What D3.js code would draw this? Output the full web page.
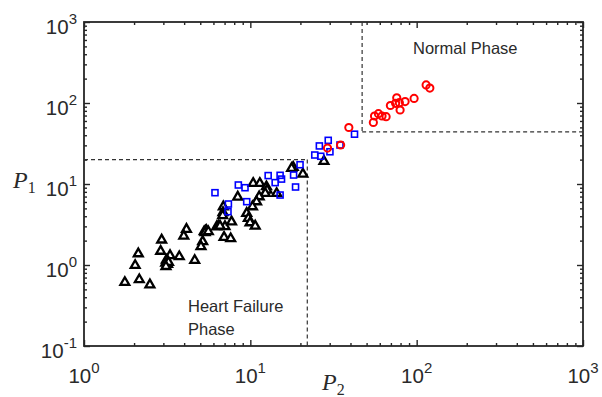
<!DOCTYPE html>
<html>
<head>
<meta charset="utf-8">
<script src="https://cdn.jsdelivr.net/npm/d3@7"></script>
<style>
  body { margin: 0; background: #fff; }
  svg { display: block; }
</style>
</head>
<body>
<div id="chart"></div>
<script>
// heart failure group (black triangles)
const hfP2 = [1.76, 2.15, 2.49, 2.03, 2.12, 2.93, 2.89, 3.29, 3.13, 3.10, 3.18, 3.22, 3.11, 3.74, 4.63, 4.13, 3.98,
  5.38, 5.28, 5.45, 5.35, 5.17, 5.05, 6.28, 5.59, 6.88, 6.85, 6.82, 6.42, 7.04, 6.95, 7.62, 7.71, 8.40,
  10.4, 11.4, 12.5, 12.6, 12.3, 14.4, 11.3, 10.9, 10.3, 9.51, 9.73, 9.96, 10.7, 6.57, 18.1, 20.7, 27.7, 17.7];
const hfP1 = [0.61, 0.66, 0.57, 0.99, 1.38, 2.04, 1.48, 1.31, 1.15, 1.06, 1.02, 1.08, 0.96, 1.27, 1.14, 2.76, 2.28,
  2.63, 2.58, 2.68, 2.52, 1.95, 1.69, 2.97, 2.58, 5.25, 4.45, 4.08, 3.03, 2.99, 2.20, 2.12, 3.42, 6.91,
  10.2, 10.2, 9.27, 8.43, 7.67, 7.67, 6.97, 6.05, 5.25, 4.35, 3.77, 3.33, 3.03, 3.03, 16.1, 13.3, 19.1, 15.6];

// intermediate group (blue squares)
const midP2 = [6.13, 8.47, 9.29, 9.51, 7.38, 7.34, 12.8, 14.1, 15.1, 15.4, 15.1, 18.7, 18.2, 19.9, 24.4, 26.5, 26.0, 29.4, 30.1, 34.6, 42.3];
const midP1 = [7.81, 9.72, 9.0, 6.05, 5.66, 4.55, 12.7, 10.4, 12.8, 11.5, 7.31, 9.18, 12.9, 17.3, 22.8, 22.0, 29.5, 34.6, 25.0, 30.3, 41.2];

// normal group (red circles)
const normP2 = [29.1, 34.9, 39.1, 54.9, 55.8, 58.9, 61.9, 65.5, 69.5, 75.9, 74.7, 78.7, 79.5, 85.2, 96.5, 114, 120];
const normP1 = [27.8, 30.3, 49.8, 57.5, 69.1, 73.8, 69.1, 67.7, 93.1, 116, 99.2, 101, 82.0, 104, 114, 167, 153];

// phase boundaries: [heart failure, normal]
const boundP2 = [22, 47];
const boundP1 = [20, 44];

const xMajor = [1, 10, 100, 1000];
const yMajor = [0.1, 1, 10, 100, 1000];
const xExp = ["0", "1", "2", "3"];
const yExp = ["-1", "0", "1", "2", "3"];

const margin = { top: 22, right: 19, bottom: 51, left: 84 };
const width = 602 - margin.left - margin.right;
const height = 397 - margin.top - margin.bottom;
const axisColor = "#262626";
const textColor = "#2a2a2a";

const svg = d3.select("#chart").append("svg")
  .attr("width", 602).attr("height", 397)
  .append("g")
  .attr("transform", "translate(" + margin.left + "," + margin.top + ")");

const x = d3.scaleLog().domain([1, 1000]).range([0, width]);
const y = d3.scaleLog().domain([0.1, 1000]).range([height, 0]);

const xMinor = x.ticks().filter(v => !xMajor.includes(v));
const yMinor = y.ticks().filter(v => !yMajor.includes(v));

function drawTicks(axisFn, scale, values, size, tr) {
  const g = svg.append("g")
    .attr("transform", tr)
    .call(axisFn(scale).tickValues(values).tickSize(-size).tickSizeOuter(0).tickFormat(""));
  g.select(".domain").remove();
  g.selectAll("line").attr("stroke", axisColor).attr("stroke-width", 1.4);
}

// inward ticks on all four sides (minor + major)
drawTicks(d3.axisBottom, x, xMinor, 3, "translate(0," + height + ")");
drawTicks(d3.axisBottom, x, xMajor, 6, "translate(0," + height + ")");
drawTicks(d3.axisTop, x, xMinor, 3, "translate(0,0)");
drawTicks(d3.axisTop, x, xMajor, 6, "translate(0,0)");
drawTicks(d3.axisLeft, y, yMinor, 3, "translate(0,0)");
drawTicks(d3.axisLeft, y, yMajor, 6, "translate(0,0)");
drawTicks(d3.axisRight, y, yMinor, 3, "translate(" + width + ",0)");
drawTicks(d3.axisRight, y, yMajor, 6, "translate(" + width + ",0)");

// box
svg.append("rect")
  .attr("width", width).attr("height", height)
  .attr("fill", "none").attr("stroke", axisColor).attr("stroke-width", 1.8);

// tick labels with superscripts
const labelFont = "'Liberation Sans', Arial, sans-serif";
const xl = svg.append("g").selectAll("text").data(xMajor).enter().append("text")
  .attr("x", d => x(d)).attr("y", height + 37)
  .attr("text-anchor", "middle")
  .attr("font-family", labelFont).attr("font-size", 20.5).attr("fill", textColor);
xl.append("tspan").text("10");
xl.append("tspan").attr("dy", -10).attr("font-size", 15).text((d, i) => xExp[i]);

const yl = svg.append("g").selectAll("text").data(yMajor).enter().append("text")
  .attr("x", -7).attr("y", d => y(d) + 12)
  .attr("text-anchor", "end")
  .attr("font-family", labelFont).attr("font-size", 20.5).attr("fill", textColor);
yl.append("tspan").text("10");
yl.append("tspan").attr("dy", -10).attr("font-size", 15).text((d, i) => yExp[i]);

// axis titles
const serif = "'Liberation Serif', 'Times New Roman', serif";
const xt = svg.append("text")
  .attr("x", 238).attr("y", height + 44)
  .attr("font-family", serif).attr("font-style", "italic").attr("font-size", 24).attr("fill", textColor);
xt.append("tspan").text("P");
xt.append("tspan").attr("dy", 5).attr("font-size", 16).attr("font-style", "normal").text("2");

const yt = svg.append("text")
  .attr("x", -71).attr("y", 166)
  .attr("font-family", serif).attr("font-style", "italic").attr("font-size", 24).attr("fill", textColor);
yt.append("tspan").text("P");
yt.append("tspan").attr("dy", 5).attr("font-size", 16).attr("font-style", "normal").text("1");

// phase boundaries (dashed)
const dash = { stroke: "#333", "stroke-width": 1.2, "stroke-dasharray": "4,3" };
function dline(x1, y1, x2, y2) {
  const l = svg.append("line").attr("x1", x1).attr("y1", y1).attr("x2", x2).attr("y2", y2).attr("fill", "none");
  Object.entries(dash).forEach(([k, v]) => l.attr(k, v));
}
dline(0, y(boundP1[0]), x(boundP2[0]), y(boundP1[0]));
dline(x(boundP2[0]), y(boundP1[0]), x(boundP2[0]), height);
dline(x(boundP2[1]), 0, x(boundP2[1]), y(boundP1[1]));
dline(x(boundP2[1]), y(boundP1[1]), width, y(boundP1[1]));

// phase annotations
svg.append("text").attr("x", 329).attr("y", 32)
  .attr("font-family", labelFont).attr("font-size", 16.5).attr("fill", textColor).text("Normal Phase");
svg.append("text").attr("x", 104).attr("y", 290)
  .attr("font-family", labelFont).attr("font-size", 16.5).attr("fill", textColor).text("Heart Failure");
svg.append("text").attr("x", 104).attr("y", 313)
  .attr("font-family", labelFont).attr("font-size", 16.5).attr("fill", textColor).text("Phase");

// markers
const tri = d3.symbol().type(d3.symbolTriangle).size(34);
svg.append("g").selectAll("path").data(hfP2).enter().append("path")
  .attr("d", tri)
  .attr("transform", (d, i) => "translate(" + x(d) + "," + y(hfP1[i]) + ")")
  .attr("fill", "#fff").attr("stroke", "#000").attr("stroke-width", 2.3);

svg.append("g").selectAll("rect").data(midP2).enter().append("rect")
  .attr("x", d => x(d) - 3).attr("y", (d, i) => y(midP1[i]) - 3)
  .attr("width", 6).attr("height", 6)
  .attr("fill", "none").attr("stroke", "#0000ff").attr("stroke-width", 1.6);

svg.append("g").selectAll("circle").data(normP2).enter().append("circle")
  .attr("cx", d => x(d)).attr("cy", (d, i) => y(normP1[i]))
  .attr("r", 3.6)
  .attr("fill", "none").attr("stroke", "#ff0000").attr("stroke-width", 2);
</script>
</body>
</html>
